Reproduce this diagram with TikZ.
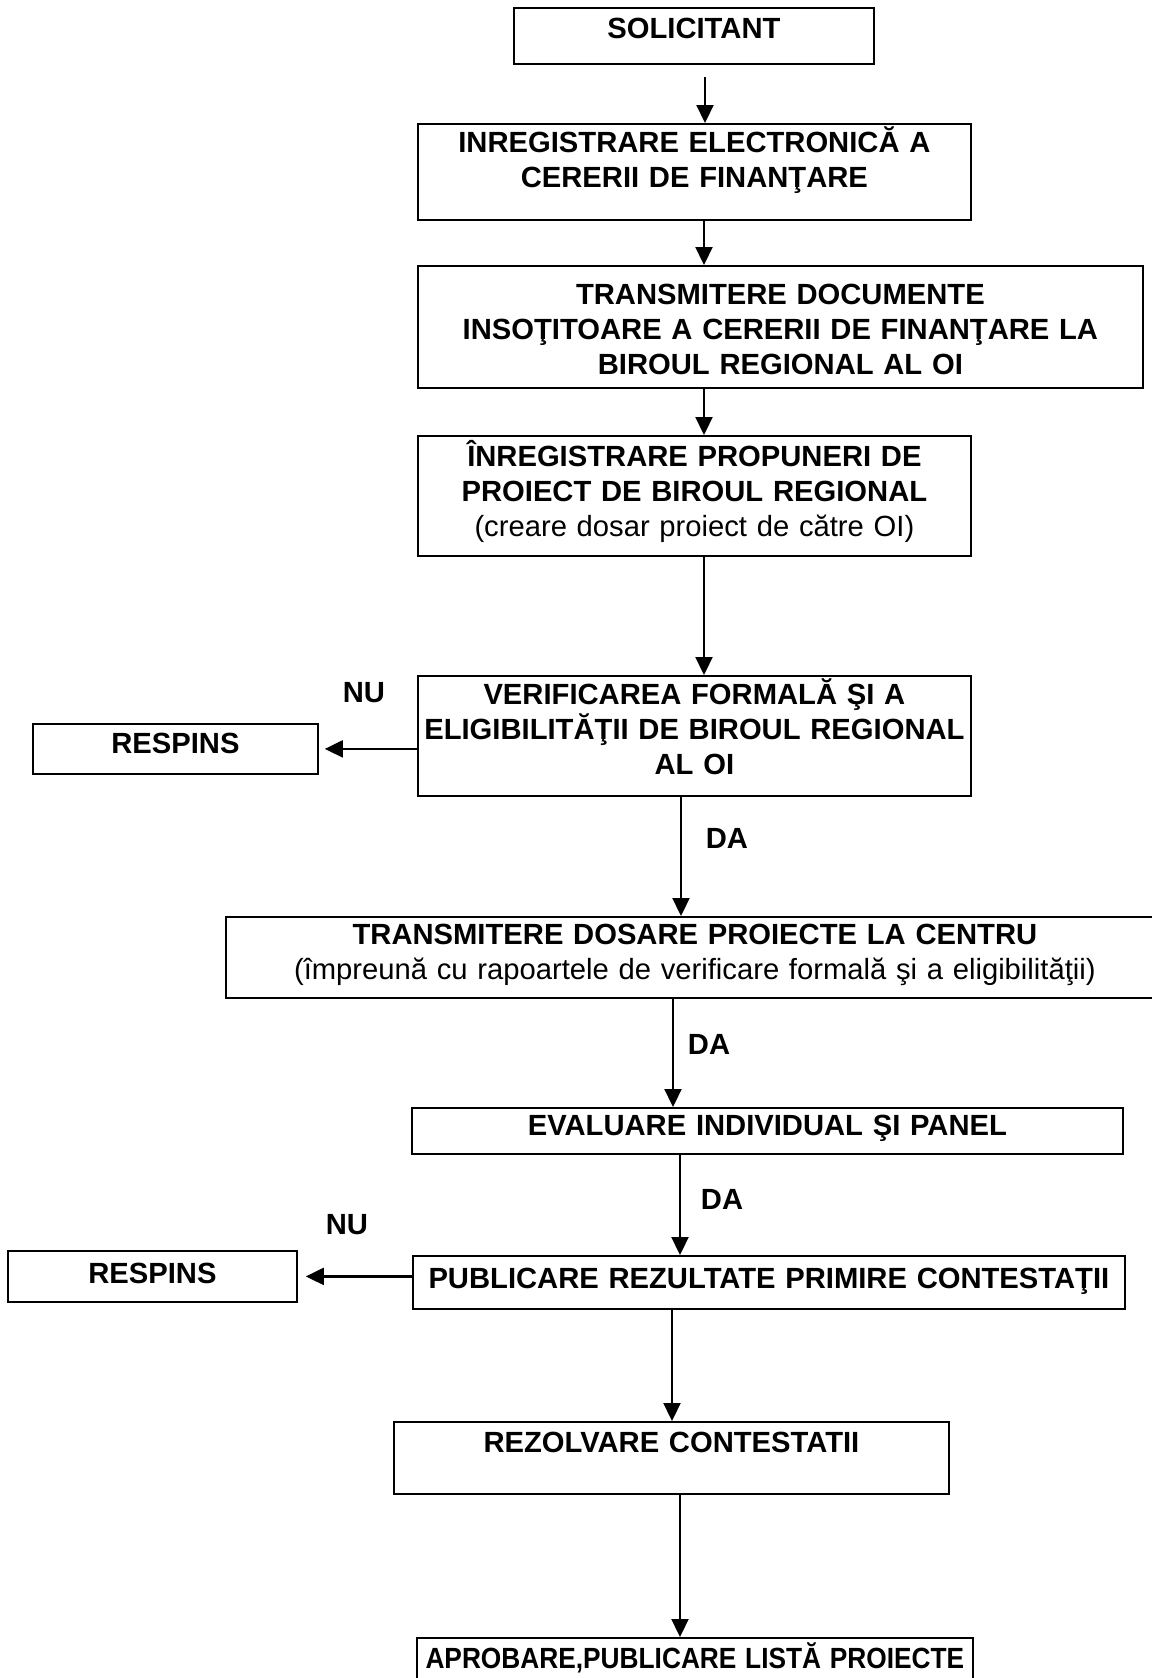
\documentclass[tikz,border=0pt]{standalone}
\usepackage{fontspec}
\setmainfont{Liberation Sans}
\usetikzlibrary{arrows.meta}
\begin{document}
\begin{tikzpicture}[x=1pt, y=-1pt,
            every node/.style={font=\fontsize{14.6pt}{17.5pt}\selectfont\bfseries},
            box/.style={draw, line width=0.9pt, rectangle, anchor=north west, inner sep=0pt, align=center},
            tag/.style={inner sep=0pt},
            arr/.style={draw, line width=1.1pt, -{Triangle[width=8.5pt,length=9pt]}}]
    \useasboundingbox (0,0) rectangle (576,839);
    \clip (0,0) rectangle (576,839);
    % main column
    \node [box, text width=180pt, text height=15.25pt, text depth=12.75pt] (sol) at (256.5,3.5) {SOLICITANT};
    \node [box, text width=276.5pt, text height=14.25pt, text depth=33.75pt] (inreg) at (208.5,61.5)
        {INREGISTRARE ELECTRONICĂ A\\CERERII DE FINANŢARE};
    \node [box, text width=362.5pt, text height=19.25pt, text depth=41.75pt] (trans) at (208.5,132.5)
        {TRANSMITERE DOCUMENTE\\INSOŢITOARE A CERERII DE FINANŢARE LA\\BIROUL REGIONAL AL OI};
    \node [box, text width=276.5pt, text height=15.25pt, text depth=44.75pt] (inregp) at (208.5,217.5)
        {ÎNREGISTRARE PROPUNERI DE\\PROIECT DE BIROUL REGIONAL\\{\mdseries (creare dosar proiect de către OI)}};
    \node [box, text width=276.5pt, text height=14.25pt, text depth=45.75pt] (verif) at (208.5,337.5)
        {VERIFICAREA FORMALĂ ŞI A\\ELIGIBILITĂŢII DE BIROUL REGIONAL\\AL OI};
    \node [box, text width=469pt, text height=13.75pt, text depth=26.75pt] (dosare) at (112.5,458)
        {TRANSMITERE DOSARE PROIECTE LA CENTRU\\{\mdseries (împreună cu rapoartele de verificare formală şi a eligibilităţii)}};
    \node [box, text width=355.5pt, text height=13.75pt, text depth=9.25pt] (eval) at (205.5,553.5)
        {EVALUARE INDIVIDUAL ŞI PANEL};
    \node [box, text width=356pt, text height=16.25pt, text depth=10.25pt] (publ) at (206,627.5)
        {\makebox[\linewidth]{PUBLICARE REZULTATE PRIMIRE CONTESTAŢII}};
    \node [box, text width=277.5pt, text height=15.25pt, text depth=20.75pt] (rez) at (196.5,710.5)
        {REZOLVARE CONTESTATII};
    \node [box, text width=278pt, text height=15.25pt, text depth=30pt] (apr) at (208,818.5)
        {\makebox[\linewidth]{\scalebox{0.9}[1]{APROBARE,PUBLICARE LISTĂ PROIECTE}}};
    % rejected branches
    \node [box, text width=142.5pt, text height=14.75pt, text depth=10.25pt] (resp1) at (16,361.5) {RESPINS};
    \node [box, text width=144.5pt, text height=16.25pt, text depth=9.25pt] (resp2) at (3.5,625) {RESPINS};
    % labels
    \node [tag] (nu1) at (182,346.5) {NU};
    \node [tag] (da1) at (363.5,419) {DA};
    \node [tag] (da2) at (354.5,522) {DA};
    \node [tag] (da3) at (361,599.5) {DA};
    \node [tag] (nu2) at (173.5,612.5) {NU};
    % connectors
    \draw [arr] ([yshift=-6pt]sol.south -| 352.5,0) -- (inreg.north -| 352.5,0);
    \draw [arr] (inreg.south -| 352,0) -- (trans.north -| 352,0);
    \draw [arr] (trans.south -| 352,0) -- (inregp.north -| 352,0);
    \draw [arr] (inregp.south -| 352,0) -- (verif.north -| 352,0);
    \draw [arr] (verif.west |- resp1.east) -- ([xshift=3pt]resp1.east);
    \draw [arr] (verif.south -| 340.5,0) -- (dosare.north -| 340.5,0);
    \draw [arr] (dosare.south -| 336.5,0) -- (eval.north -| 336.5,0);
    \draw [arr] (eval.south -| 340,0) -- (publ.north -| 340,0);
    \draw [arr] (publ.west |- resp2.east) -- ([xshift=4pt]resp2.east);
    \draw [arr] (publ.south -| 336,0) -- (rez.north -| 336,0);
    \draw [arr] (rez.south -| 340,0) -- (apr.north -| 340,0);
\end{tikzpicture}
\end{document}
